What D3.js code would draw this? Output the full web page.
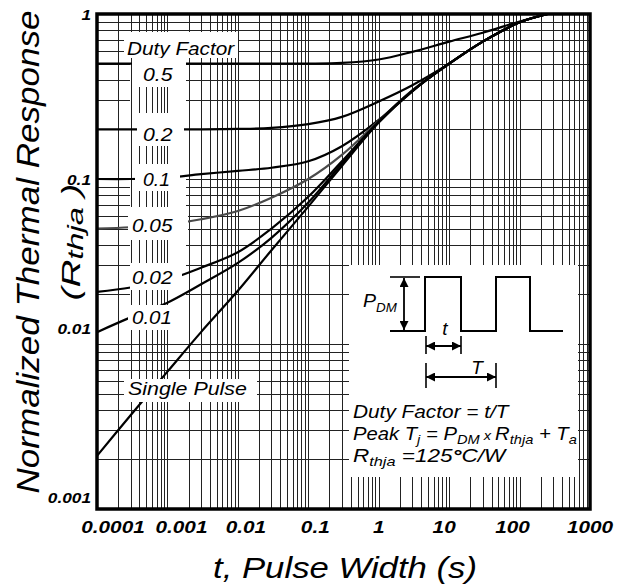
<!DOCTYPE html>
<html>
<head>
<script src="https://d3js.org/d3.v7.min.js"></script>
<style>
  body { margin: 0; background: #fff; }
  svg { display: block; font-family: "Liberation Sans", Arial, sans-serif; }
  .grid line { stroke: #222; stroke-width: 1; shape-rendering: crispEdges; }
</style>
</head>
<body>
<script>

const pulseWidth = [0.0001, 0.0003, 0.001, 0.003, 0.01, 0.03, 0.1, 0.3, 1, 3, 10, 30, 100, 250];

// normalized thermal response for each duty factor
const duty05 = [0.5, 0.5, 0.5, 0.5, 0.5, 0.5, 0.5, 0.505, 0.53, 0.59, 0.68, 0.77, 0.9, 1.0];
const duty02 = [0.2, 0.2, 0.2, 0.2, 0.201, 0.204, 0.215, 0.238, 0.295, 0.37, 0.5, 0.68, 0.89, 1.0];
const duty01 = [0.1, 0.1, 0.102, 0.107, 0.112, 0.117, 0.128, 0.158, 0.228, 0.345, 0.5, 0.68, 0.89, 1.0];
const duty005 = [0.05, 0.051, 0.053, 0.057, 0.064, 0.077, 0.1, 0.14, 0.225, 0.343, 0.5, 0.68, 0.89, 1.0];
const duty002 = [0.0207, 0.022, 0.0245, 0.029, 0.036, 0.05, 0.078, 0.128, 0.223, 0.342, 0.5, 0.68, 0.89, 1.0];
const duty001 = [0.0118, 0.0145, 0.0178, 0.023, 0.031, 0.044, 0.072, 0.124, 0.221, 0.341, 0.5, 0.68, 0.89, 1.0];
const singlePulse = [0.0021, 0.0037, 0.0068, 0.0118, 0.021, 0.037, 0.068, 0.12, 0.22, 0.34, 0.5, 0.68, 0.89, 1.0];

const xTicks = [0.0001, 0.001, 0.01, 0.1, 1, 10, 100, 1000];
const xTickLabels = ["0.0001", "0.001", "0.01", "0.1", "1", "10", "100", "1000"];
const yTicks = [1, 0.1, 0.01, 0.001];
const yTickLabels = ["1", "0.1", "0.01", "0.001"];

const curves = [
  { name: "0.5", values: duty05, color: "#000" },
  { name: "0.2", values: duty02, color: "#000" },
  { name: "0.1", values: duty01, color: "#000" },
  { name: "0.05", values: duty005, color: "#4a4a4a" },
  { name: "0.02", values: duty002, color: "#000" },
  { name: "0.01", values: duty001, color: "#000" },
  { name: "Single Pulse", values: singlePulse, color: "#000" }
];

const width = 628, height = 587;
const x = d3.scaleLog().domain([1e-4, 1e3]).range([97, 590]);
const y = d3.scaleLog().domain([1e-3, 1]).range([509, 14]);

const svg = d3.select("body").append("svg")
  .attr("width", width).attr("height", height);

// text helper: optional rotation and horizontal stretch to a target width
function addText(parent, tx, ty, content, o) {
  const g = parent.append("g")
    .attr("transform", `translate(${tx},${ty})` + (o.rotate ? ` rotate(${o.rotate})` : ""));
  const t = g.append("text")
    .attr("text-anchor", o.anchor || "start")
    .style("font-size", o.size + "px")
    .style("font-style", o.italic ? "italic" : "normal")
    .style("font-weight", o.bold ? "bold" : "normal")
    .attr("fill", "#000");
  if (typeof content === "string") t.text(content); else content(t);
  let sx = o.sx || 1;
  if (o.width) sx = o.width / t.node().getBBox().width;
  if (sx !== 1) t.attr("transform", `scale(${sx},1)`);
  return g;
}
function sub(t, str, size, dy) {
  t.append("tspan").attr("dy", dy).style("font-size", size + "px").text(str);
}

// horizontal grid, then the white label column, then vertical grid
const hGrid = svg.append("g").attr("class", "grid");
hGrid.selectAll("line").data(y.ticks()).join("line")
  .attr("x1", x.range()[0]).attr("x2", x.range()[1])
  .attr("y1", d => Math.round(y(d)) + 0.5).attr("y2", d => Math.round(y(d)) + 0.5);

svg.append("rect").attr("x", 130).attr("y", 58).attr("width", 56).attr("height", 277).attr("fill", "#fff");

const vGrid = svg.append("g").attr("class", "grid");
vGrid.selectAll("line").data(x.ticks()).join("line")
  .attr("y1", y.range()[1]).attr("y2", y.range()[0])
  .attr("x1", d => Math.round(x(d)) + 0.5).attr("x2", d => Math.round(x(d)) + 0.5);

// curves
const line = d3.line()
  .x(d => x(d[0]))
  .y(d => y(d[1]))
  .curve(d3.curveCatmullRom.alpha(0.5));

svg.append("g").selectAll("path").data(curves).join("path")
  .attr("d", c => line(pulseWidth.map((t, i) => [t, c.values[i]])))
  .attr("fill", "none")
  .attr("stroke", c => c.color)
  .attr("stroke-width", 2.2);

// curve labels with white boxes
const labelLayout = [
  { text: "Duty Factor", x: 127, y: 55, w: 108, box: [124, 32, 114, 26] },
  { text: "0.5", x: 143, y: 81, w: 30, box: [132, 58, 54, 29] },
  { text: "0.2", x: 143, y: 141, w: 30, box: [137, 113, 47, 33] },
  { text: "0.1", x: 143, y: 186, w: 27, box: [135, 164, 45, 27] },
  { text: "0.05", x: 132, y: 232, w: 41, box: [128, 207, 60, 33] },
  { text: "0.02", x: 132, y: 284, w: 41, box: [130, 263, 52, 27] },
  { text: "0.01", x: 132, y: 324, w: 40, box: [128, 305, 40, 25] },
  { text: "Single Pulse", x: 128, y: 395, w: 119, box: [124, 379, 133, 23] }
];
const lbl = svg.append("g");
labelLayout.forEach(l => {
  lbl.append("rect").attr("x", l.box[0]).attr("y", l.box[1])
    .attr("width", l.box[2]).attr("height", l.box[3]).attr("fill", "#fff");
  addText(lbl, l.x, l.y, l.text, { size: 19, italic: true, width: l.w });
});

// inset: pulse diagram and formulas
const inset = svg.append("g");
inset.append("rect").attr("x", 349).attr("y", 265).attr("width", 229).attr("height", 212).attr("fill", "#fff");

const defs = svg.append("defs");
defs.append("marker").attr("id", "arr").attr("viewBox", "0 0 10 10")
  .attr("refX", 10).attr("refY", 5).attr("markerWidth", 9).attr("markerHeight", 9)
  .attr("markerUnits", "userSpaceOnUse").attr("orient", "auto-start-reverse")
  .append("path").attr("d", "M0,0L10,5L0,10Z").attr("fill", "#000");

const wave = [[390, 331], [425, 331], [425, 277], [461, 277], [461, 331], [496, 331],
  [496, 277], [530, 277], [530, 331], [563, 331]];
inset.append("path").attr("d", d3.line()(wave)).attr("fill", "none")
  .attr("stroke", "#000").attr("stroke-width", 2);
const segs = [[[390, 277], [420, 277]], [[426, 336], [426, 354]], [[461, 336], [461, 354]],
  [[426, 363], [426, 388]], [[496, 363], [496, 388]]];
segs.forEach(s => inset.append("path").attr("d", d3.line()(s))
  .attr("stroke", "#000").attr("stroke-width", 1.6));
const arrows = [[[404, 278], [404, 330]], [[426, 346], [461, 346]], [[426, 377], [496, 377]]];
arrows.forEach(s => inset.append("path").attr("d", d3.line()(s))
  .attr("stroke", "#000").attr("stroke-width", 1.8)
  .attr("marker-start", "url(#arr)").attr("marker-end", "url(#arr)"));

addText(inset, 363, 307, t => { t.append("tspan").text("P"); sub(t, "DM", 13, 5); }, { size: 19, italic: true, width: 34 });
addText(inset, 445, 335, "t", { size: 19, italic: true, anchor: "middle" });
addText(inset, 477, 374, "T", { size: 19, italic: true, anchor: "middle" });

addText(inset, 353, 418, "Duty Factor = t/T", { size: 18, italic: true, width: 158 });
addText(inset, 353, 440, t => {
  t.append("tspan").text("Peak T");
  sub(t, "j", 13, 4);
  t.append("tspan").attr("dy", -4).text(" = P");
  sub(t, "DM", 13, 4);
  t.append("tspan").attr("dy", -4).style("font-size", "13px").text(" x ");
  t.append("tspan").text("R");
  sub(t, "thja", 13, 4);
  t.append("tspan").attr("dy", -4).text(" + T");
  sub(t, "a", 13, 4);
}, { size: 18, italic: true, width: 224 });
addText(inset, 353, 462, t => {
  t.append("tspan").text("R");
  sub(t, "thja", 13, 4);
  t.append("tspan").attr("dy", -4).text(" =125");
  t.append("tspan").style("font-weight", "bold").text("°");
  t.append("tspan").text("C/W");
}, { size: 18, italic: true, width: 155 });

// plot frame
svg.append("rect").attr("x", 97).attr("y", 14).attr("width", 493).attr("height", 495)
  .attr("fill", "none").attr("stroke", "#000").attr("stroke-width", 3.5);

// tick labels
const xNudge = [16, 14, 8, 7, 0, -5, -7, 0];
xTicks.forEach((t, i) => addText(svg, x(t) + xNudge[i], 533, xTickLabels[i],
  { size: 16, bold: true, italic: true, anchor: "middle", sx: 1.3 }));
const yNudge = [6, 6, -10, -6];
yTicks.forEach((v, i) => addText(svg, 91, y(v) + yNudge[i], yTickLabels[i],
  { size: 15, bold: true, italic: true, anchor: "end", sx: 1.15 }));

// axis titles
addText(svg, 345, 578, "t, Pulse Width (s)", { size: 30, italic: true, anchor: "middle", width: 264 });
addText(svg, 39, 252, "Normalized Thermal Response", { size: 32, italic: true, anchor: "middle", rotate: -90, width: 483 });
addText(svg, 80, 242, t => {
  t.append("tspan").text("(R");
  sub(t, "thja", 22, 3);
  t.append("tspan").attr("dy", -3).text(" )");
}, { size: 26, italic: true, anchor: "middle", rotate: -90, width: 117 });

</script>
</body>
</html>
